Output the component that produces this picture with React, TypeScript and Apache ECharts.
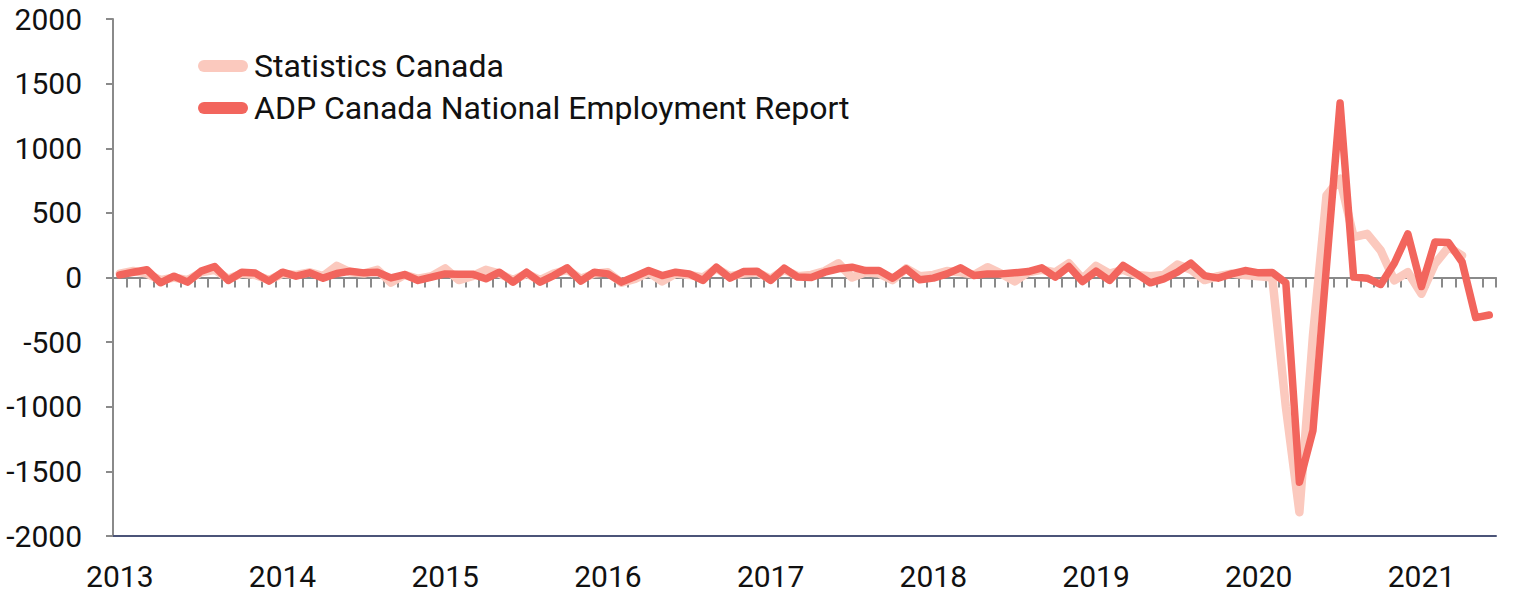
import React, { useEffect, useRef } from "react";
import * as echarts from "echarts";

const years = ["2013", "2014", "2015", "2016", "2017", "2018", "2019", "2020", "2021"];

const adpValues = [
  20, 41, 60, -41, 10, -36, 49, 85, -23, 41, 34, -28,
  41, 10, 36, -5, 31, 49, 36, 41, -3, 23, -23, 3,
  28, 26, 26, -10, 41, -36, 41, -36, 15, 75, -28, 41,
  28, -36, 8, 54, 15, 41, 28, -23, 80, -5, 46, 49,
  -23, 72, 3, 0, 41, 67, 80, 54, 54, -5, 67, -18,
  -5, 28, 75, 15, 28, 28, 36, 46, 75, 3, 85, -31,
  49, -23, 93, 28, -41, -10, 41, 111, 15, -5, 28, 54,
  36, 39, -40, -1584, -1184, 90, 1350, 3, -5, -54, 110, 338,
  -70, 275, 270, 120, -310, -290,
];

const statCanValues = [
  30, 50, 30, -20, 0, -20, 40, 60, -10, 30, 20, -20,
  30, 20, 40, 10, 90, 40, 30, 60, -40, 20, -10, 10,
  70, -20, 10, 60, 30, -20, 30, -20, 30, 60, -10, 30,
  40, -40, -10, 40, -30, 30, 20, 0, 70, 10, 30, 40,
  -10, 60, 10, 20, 50, 110, 0, 40, 30, -20, 70, 10,
  20, 50, 40, 20, 80, 30, -30, 40, 60, 40, 110, -10,
  90, 30, 60, 20, 10, 20, 100, 60, -20, 10, 30, 20,
  10, 0, -1000, -1816, -450, 635, 765, 312, 338, 209, -23, 41,
  -126, 106, 235, 170, null, null,
];

const yTicks = { min: -2000, max: 2000, interval: 500 };

const months = years
  .flatMap((y) => Array.from({ length: 12 }, (_, i) => `${y}-${String(i + 1).padStart(2, "0")}`))
  .slice(0, adpValues.length);

const FONT = "Roboto, 'Noto Sans', sans-serif";
const RED = "#F2655D";
const PINK = "#FBC9BE";
const ICON = "path://M6,0L44,0A6,6,0,0,1,44,12L6,12A6,6,0,0,1,6,0Z";

export default function App() {
  const ref = useRef<HTMLDivElement>(null);
  useEffect(() => {
    if (!ref.current) return;
    const chart = echarts.init(ref.current, undefined, { renderer: "svg" });
    chart.setOption({
      animation: false,
      backgroundColor: "#ffffff",
      textStyle: { fontFamily: FONT },
      grid: { left: 113, right: 20, top: 19, bottom: 63, containLabel: false },
      legend: {
        orient: "vertical",
        left: 193,
        top: 45,
        itemWidth: 52,
        itemHeight: 12,
        itemGap: 10,
        icon: ICON,
        itemStyle: { borderWidth: 0 },
        textStyle: { fontFamily: FONT, fontSize: 32, color: "#111", padding: [0, 0, 0, 0] },
        data: ["Statistics Canada", "ADP Canada National Employment Report"],
      },
      xAxis: [
        {
          type: "category",
          data: months,
          boundaryGap: true,
          position: "bottom",
          axisLine: { onZero: false, lineStyle: { color: "#4B5478", width: 2 } },
          axisTick: { show: false },
          axisLabel: {
            interval: (idx: number) => idx % 12 === 0,
            formatter: (v: string) => v.slice(0, 4),
            fontFamily: FONT,
            fontSize: 30,
            color: "#111",
            margin: 25,
          },
          splitLine: { show: false },
        },
        {
          type: "category",
          data: months,
          boundaryGap: true,
          position: "top",
          axisLine: { onZero: true, onZeroAxisIndex: 0, lineStyle: { color: "#8A8A8A", width: 2 } },
          axisTick: { show: true, inside: true, length: 10, interval: 0, lineStyle: { color: "#8A8A8A", width: 2 } },
          axisLabel: { show: false },
          splitLine: { show: false },
        },
      ],
      yAxis: {
        type: "value",
        min: yTicks.min,
        max: yTicks.max,
        interval: yTicks.interval,
        axisLine: { show: true, lineStyle: { color: "#8A8A8A", width: 2 } },
        axisTick: { show: true, length: 7, lineStyle: { color: "#8A8A8A", width: 2 } },
        axisLabel: {
          fontFamily: FONT,
          fontSize: 30,
          color: "#111",
          margin: 31,
          formatter: (v: number) => String(v),
        },
        splitLine: { show: false },
      },
      series: [
        {
          name: "Statistics Canada",
          type: "line",
          xAxisIndex: 0,
          data: statCanValues,
          symbol: "none",
          connectNulls: false,
          itemStyle: { color: PINK },
          lineStyle: { color: PINK, width: 8.5, cap: "round", join: "round" },
          z: 2,
        },
        {
          name: "ADP Canada National Employment Report",
          type: "line",
          xAxisIndex: 0,
          data: adpValues,
          symbol: "none",
          itemStyle: { color: RED },
          lineStyle: { color: RED, width: 7.5, cap: "round", join: "round" },
          z: 3,
        },
      ],
    });
    return () => chart.dispose();
  }, []);
  return (
    <div
      ref={ref}
      style={{ position: "absolute", left: 0, top: 0, width: 1516, height: 599, background: "#fff" }}
    />
  );
}
